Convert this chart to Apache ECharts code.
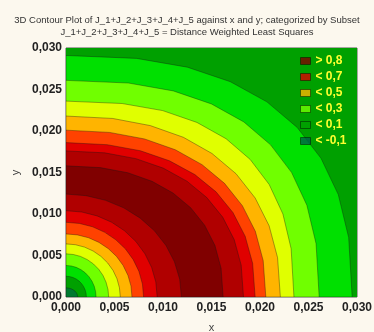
<!DOCTYPE html>
<html>
<head>
<meta charset="utf-8">
<script src="https://cdn.jsdelivr.net/npm/echarts@6/dist/echarts.min.js"></script>
<style>
  html, body { margin: 0; padding: 0; background: #fcf8ee; }
  #chart { width: 374px; height: 332px; }
</style>
</head>
<body>
<div id="chart"></div>
<script>
// Axis range (same for x and y)
const axisMin = 0;
const axisMax = 0.03;
const tickStep = 0.005;

// Outer family: contours on the far side of the ridge.
const outer01 = [[0.0295,0],[0.02914,0.00717],[0.02807,0.01234],[0.02629,0.01671],[0.02383,0.02043],[0.02071,0.02351],[0.01694,0.02594],[0.01251,0.02769],[0.00727,0.02875],[0,0.0291]];
const outer02 = [[0.0261,0],[0.02578,0.00643],[0.02483,0.01106],[0.02326,0.01499],[0.02109,0.01833],[0.01833,0.02109],[0.01499,0.02326],[0.01106,0.02483],[0.00643,0.02578],[0,0.0261]];
const outer03 = [[0.0235,0],[0.02321,0.00582],[0.02236,0.01],[0.02095,0.01355],[0.01899,0.01657],[0.0165,0.01907],[0.0135,0.02103],[0.00996,0.02246],[0.00579,0.02331],[0,0.0236]];
const outer04 = [[0.0221,0],[0.02181,0.00475],[0.02094,0.00858],[0.0195,0.01193],[0.01753,0.01485],[0.01505,0.01729],[0.0121,0.01924],[0.00869,0.02065],[0.00482,0.02151],[0,0.0218]];
const outer05 = [[0.0206,0],[0.02033,0.00438],[0.01952,0.00791],[0.01818,0.011],[0.01634,0.01369],[0.01403,0.01594],[0.01127,0.01774],[0.0081,0.01904],[0.00449,0.01983],[0,0.0201]];
const outer06 = [[0.0195,0],[0.01924,0.00406],[0.01847,0.00732],[0.01721,0.01018],[0.01547,0.01267],[0.01328,0.01475],[0.01067,0.01641],[0.00767,0.01762],[0.00425,0.01835],[0,0.0186]];
const outer07 = [[0.0183,0],[0.01806,0.00384],[0.01734,0.00692],[0.01615,0.00963],[0.01451,0.01199],[0.01246,0.01396],[0.01002,0.01553],[0.0072,0.01667],[0.00399,0.01737],[0,0.0176]];
const outer08 = [[0.0162,0],[0.01599,0.00345],[0.01535,0.00622],[0.01429,0.00865],[0.01285,0.01076],[0.01103,0.01253],[0.00887,0.01394],[0.00637,0.01497],[0.00353,0.01559],[0,0.0158]];
// Inner family: contours between the origin and the ridge.
const inner08 = [[0.0119,0],[0.01172,0.00215],[0.01118,0.00424],[0.01031,0.0062],[0.00912,0.00797],[0.00765,0.0095],[0.00595,0.01074],[0.00407,0.01165],[0.00207,0.01221],[0,0.0124]];
const inner07 = [[0.0094,0],[0.00926,0.00181],[0.00883,0.00356],[0.00814,0.0052],[0.0072,0.00669],[0.00604,0.00797],[0.0047,0.00901],[0.00321,0.00977],[0.00163,0.01024],[0,0.0104]];
const inner06 = [[0.008,0],[0.00788,0.00156],[0.00752,0.00308],[0.00693,0.0045],[0.00613,0.00579],[0.00514,0.00689],[0.004,0.00779],[0.00274,0.00846],[0.00139,0.00886],[0,0.009]];
const inner05 = [[0.0068,0],[0.0067,0.00132],[0.00639,0.0026],[0.00589,0.0038],[0.00521,0.00489],[0.00437,0.00582],[0.0034,0.00658],[0.00233,0.00714],[0.00118,0.00748],[0,0.0076]];
const inner04 = [[0.0056,0],[0.00551,0.00111],[0.00526,0.00219],[0.00485,0.0032],[0.00429,0.00411],[0.0036,0.0049],[0.0028,0.00554],[0.00192,0.00601],[0.00097,0.0063],[0,0.0064]];
const inner03 = [[0.0044,0],[0.00433,0.0009],[0.00413,0.00178],[0.00381,0.0026],[0.00337,0.00334],[0.00283,0.00398],[0.0022,0.0045],[0.0015,0.00489],[0.00076,0.00512],[0,0.0052]];
const inner02 = [[0.0031,0],[0.00305,0.00066],[0.00291,0.0013],[0.00268,0.0019],[0.00237,0.00244],[0.00199,0.00291],[0.00155,0.00329],[0.00106,0.00357],[0.00054,0.00374],[0,0.0038]];
const inner01 = [[0.0021,0],[0.00207,0.00043],[0.00197,0.00086],[0.00182,0.00125],[0.00161,0.00161],[0.00135,0.00192],[0.00105,0.00217],[0.00072,0.00235],[0.00036,0.00246],[0,0.0025]];
const inner00 = [[0.0012,0],[0.00118,0.00019],[0.00113,0.00038],[0.00104,0.00055],[0.00092,0.00071],[0.00077,0.00084],[0.0006,0.00095],[0.00041,0.00103],[0.00021,0.00108],[0,0.0011]];

// Band labels (z classes) and the ones listed in the key
const bandLabels = ['< -0,1', '< 0', '< 0,1', '< 0,2', '< 0,3', '< 0,4', '< 0,5', '< 0,6', '< 0,7', '< 0,8', '> 0,8'];
const keyLabels = ['> 0,8', '< 0,7', '< 0,5', '< 0,3', '< 0,1', '< -0,1'];

// Fill colours per band
const bandColors = {
  '< -0,1': '#006048',
  '< 0': '#007a30',
  '< 0,1': '#00a000',
  '< 0,2': '#00e000',
  '< 0,3': '#70ff00',
  '< 0,4': '#e0ff00',
  '< 0,5': '#ffb400',
  '< 0,6': '#ff4200',
  '< 0,7': '#e00000',
  '< 0,8': '#b00000',
  '> 0,8': '#800000'
};

// Regions painted in order: each one covers everything inside its contour.
const regions = [
  { band: '< 0,1', line: null },
  { band: '< 0,2', line: outer01 },
  { band: '< 0,3', line: outer02 },
  { band: '< 0,4', line: outer03 },
  { band: '< 0,5', line: outer04 },
  { band: '< 0,6', line: outer05 },
  { band: '< 0,7', line: outer06 },
  { band: '< 0,8', line: outer07 },
  { band: '> 0,8', line: outer08 },
  { band: '< 0,8', line: inner08 },
  { band: '< 0,7', line: inner07 },
  { band: '< 0,6', line: inner06 },
  { band: '< 0,5', line: inner05 },
  { band: '< 0,4', line: inner04 },
  { band: '< 0,3', line: inner03 },
  { band: '< 0,2', line: inner02 },
  { band: '< 0,1', line: inner01 },
  { band: '< 0', line: inner00 }
];

const fmt = v => v.toFixed(3).replace('.', ',');

const chart = echarts.init(document.getElementById('chart'), null, { renderer: 'canvas' });

const contourSeries = {
  type: 'custom',
  name: 'contours',
  coordinateSystem: 'cartesian2d',
  clip: true,
  silent: true,
  data: regions.map(() => [0, 0]),
  renderItem: function (params, api) {
    const r = regions[params.dataIndex];
    let pts;
    if (r.line === null) {
      pts = [[axisMin, axisMin], [axisMax, axisMin], [axisMax, axisMax], [axisMin, axisMax]];
    } else {
      pts = r.line.concat([[0, 0]]);
    }
    return {
      type: 'polygon',
      shape: { points: pts.map(p => api.coord(p)) },
      style: {
        fill: bandColors[r.band],
        stroke: r.line === null ? null : 'rgba(20,20,20,0.6)',
        lineWidth: 0.6
      }
    };
  }
};

const keySeries = keyLabels.map(name => ({
  type: 'scatter',
  name: name,
  data: [],
  itemStyle: { color: bandColors[name] }
}));

chart.setOption({
  backgroundColor: '#fcf8ee',
  animation: false,
  textStyle: { fontFamily: 'Liberation Sans, Arial, sans-serif' },
  title: {
    text: '3D Contour Plot of J_1+J_2+J_3+J_4+J_5 against x and y; categorized by Subset\nJ_1+J_2+J_3+J_4+J_5 = Distance Weighted Least Squares',
    left: 'center',
    top: 14,
    padding: 0,
    textStyle: { fontSize: 9.5, fontWeight: 'normal', color: '#333', lineHeight: 12 }
  },
  legend: {
    data: keyLabels,
    orient: 'vertical',
    left: 300,
    top: 55,
    padding: 0,
    itemWidth: 10,
    itemHeight: 7,
    itemGap: 4,
    icon: 'rect',
    selectedMode: false,
    itemStyle: { borderColor: 'rgba(0,0,0,0.55)', borderWidth: 1 },
    textStyle: { color: '#ffff30', fontWeight: 'bold', fontSize: 12, lineHeight: 12 }
  },
  grid: {
    left: 66, right: 17, top: 48, bottom: 35,
    containLabel: false,
    outerBoundsMode: 'none',
    show: true,
    borderColor: '#555',
    borderWidth: 1,
    backgroundColor: 'transparent'
  },
  xAxis: {
    type: 'value',
    min: axisMin, max: axisMax, interval: tickStep,
    name: 'x',
    nameLocation: 'middle',
    nameGap: 25,
    nameTextStyle: { fontSize: 11, color: '#444' },
    axisLine: { show: false },
    axisTick: { show: false },
    splitLine: { show: false },
    axisLabel: { formatter: fmt, fontSize: 12, fontWeight: 'bold', color: '#222', margin: 5 }
  },
  yAxis: {
    type: 'value',
    min: axisMin, max: axisMax, interval: tickStep,
    name: 'y',
    nameLocation: 'middle',
    nameGap: 41,
    nameTextStyle: { fontSize: 11, color: '#444' },
    axisLine: { show: false },
    axisTick: { show: false },
    splitLine: { show: false },
    axisLabel: { formatter: fmt, fontSize: 12, fontWeight: 'bold', color: '#222', margin: 4 }
  },
  series: [contourSeries].concat(keySeries)
});
</script>
</body>
</html>
